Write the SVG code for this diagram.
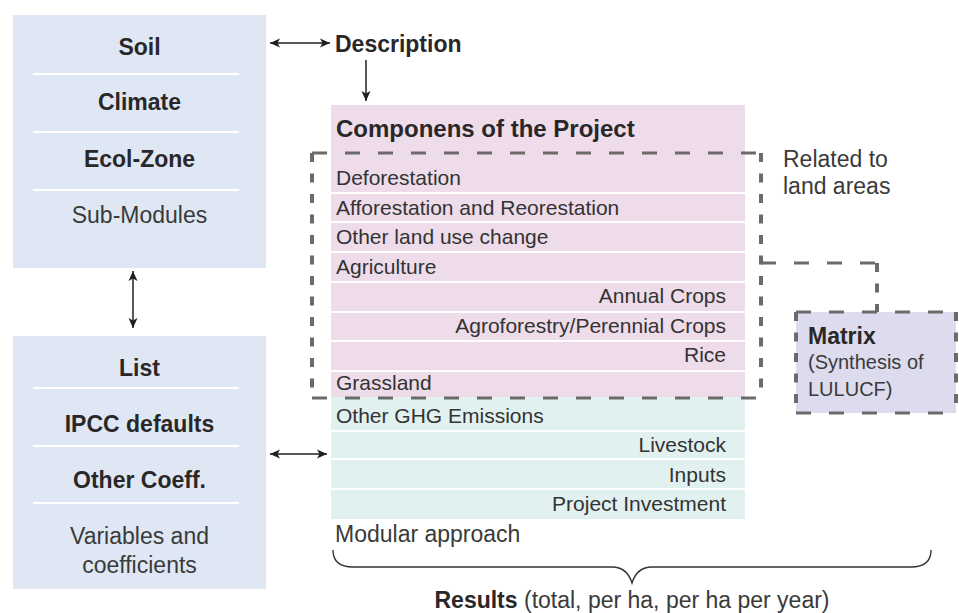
<svg xmlns="http://www.w3.org/2000/svg" width="959" height="613" viewBox="0 0 959 613">
<defs>
<style>
text{font-family:"Liberation Sans",Arial,sans-serif;fill:#2a2728}
.b{font-weight:bold;font-size:23px}
.r{font-size:23px;fill:#3a3a3a}
.row{font-size:21px;fill:#333}
.rr{font-size:21px;fill:#333;text-anchor:end}
.c{text-anchor:middle}
.sep{stroke:#fff;stroke-width:2}
.dh{fill:none;stroke:#6b6b6b;stroke-width:3;stroke-dasharray:15 18}
.dv{fill:none;stroke:#6b6b6b;stroke-width:4;stroke-dasharray:9 11.5}
.arr{fill:none;stroke:#231f20;stroke-width:1.5}
</style>
<marker id="ah" viewBox="0 0 10 10" refX="10" refY="5" markerWidth="11" markerHeight="10" markerUnits="userSpaceOnUse" orient="auto-start-reverse">
<path d="M0,0.5 L10,5 L0,9.5 L2.5,5 z" fill="#231f20"/>
</marker>
</defs>

<g id="submodules">
<rect x="13" y="15" width="253" height="253" fill="#dfe7f4"/>
<line class="sep" x1="33" y1="74" x2="239" y2="74"/>
<line class="sep" x1="33" y1="132" x2="239" y2="132"/>
<line class="sep" x1="33" y1="190" x2="239" y2="190"/>
<text class="b c" x="139.5" y="55">Soil</text>
<text class="b c" x="139.5" y="110">Climate</text>
<text class="b c" x="139.5" y="167">Ecol-Zone</text>
<text class="r c" x="139.5" y="223">Sub-Modules</text>
</g>

<g id="variables">
<rect x="13" y="336" width="253" height="253" fill="#dfe7f4"/>
<line class="sep" x1="33" y1="388" x2="239" y2="388"/>
<line class="sep" x1="33" y1="446" x2="239" y2="446"/>
<line class="sep" x1="33" y1="503" x2="239" y2="503"/>
<text class="b c" x="139.5" y="376">List</text>
<text class="b c" x="139.5" y="432">IPCC defaults</text>
<text class="b c" x="139.5" y="488">Other Coeff.</text>
<text class="r c" x="139.5" y="544">Variables and</text>
<text class="r c" x="139.5" y="573">coefficients</text>
</g>

<g id="description">
<text class="b" x="335" y="52">Description</text>
</g>

<g id="components">
<rect x="331" y="105" width="414" height="292" fill="#eedcea"/>
<line class="sep" x1="331" y1="193" x2="745" y2="193"/>
<line class="sep" x1="331" y1="222" x2="745" y2="222"/>
<line class="sep" x1="331" y1="252" x2="745" y2="252"/>
<line class="sep" x1="331" y1="282" x2="745" y2="282"/>
<line class="sep" x1="331" y1="312" x2="745" y2="312"/>
<line class="sep" x1="331" y1="341" x2="745" y2="341"/>
<line class="sep" x1="331" y1="371" x2="745" y2="371"/>
<text class="b" x="336" y="137" style="font-size:24px">Componens of the Project</text>
<text class="row" x="336" y="185">Deforestation</text>
<text class="row" x="336" y="215">Afforestation and Reorestation</text>
<text class="row" x="336" y="244">Other land use change</text>
<text class="row" x="336" y="274">Agriculture</text>
<text class="rr" x="726" y="303">Annual Crops</text>
<text class="rr" x="726" y="333">Agroforestry/Perennial Crops</text>
<text class="rr" x="726" y="362">Rice</text>
<text class="row" x="336" y="390">Grassland</text>
</g>

<g id="other-ghg">
<rect x="331" y="397" width="414" height="122" fill="#e1f1f0"/>
<line class="sep" x1="331" y1="431" x2="745" y2="431"/>
<line class="sep" x1="331" y1="459" x2="745" y2="459"/>
<line class="sep" x1="331" y1="489" x2="745" y2="489"/>
<text class="row" x="336" y="423">Other GHG Emissions</text>
<text class="rr" x="726" y="452">Livestock</text>
<text class="rr" x="726" y="482">Inputs</text>
<text class="rr" x="726" y="511">Project Investment</text>
<text class="r" x="335" y="542">Modular approach</text>
</g>

<g id="land-areas">
<path class="dh" d="M312,153 H761"/>
<path class="dh" d="M312,398 H761"/>
<path class="dv" d="M312,153 V398"/>
<path class="dv" d="M761,153 V398"/>
<text class="r" x="783" y="167">Related to</text>
<text class="r" x="783" y="194">land areas</text>
</g>

<g id="matrix">
<rect x="796" y="312" width="160" height="101" fill="#dddcee"/>
<path class="dh" d="M796,312 H956"/>
<path class="dh" d="M796,413 H956"/>
<path class="dv" d="M796,312 V413"/>
<path class="dv" d="M956,312 V413"/>
<text x="808" y="344" style="font-weight:bold;font-size:23px">Matrix</text>
<text x="808" y="369" style="font-size:20px;fill:#3a3a3a">(Synthesis of</text>
<text x="808" y="396" style="font-size:20px;fill:#3a3a3a">LULUCF)</text>
</g>

<g id="results">
<text x="632" y="608" class="c" style="font-size:23px;fill:#3a3a3a"><tspan style="font-weight:bold;fill:#2a2728">Results</tspan> (total, per ha, per ha per year)</text>
</g>

<g id="connectors">
<line class="arr" x1="270" y1="43" x2="330" y2="43" marker-start="url(#ah)" marker-end="url(#ah)"/>
<line class="arr" x1="366" y1="60" x2="366" y2="101" marker-end="url(#ah)"/>
<line class="arr" x1="133" y1="271" x2="133" y2="328" marker-start="url(#ah)" marker-end="url(#ah)"/>
<line class="arr" x1="270" y1="454" x2="327" y2="454" marker-start="url(#ah)" marker-end="url(#ah)"/>
<path class="dh" d="M761,263 H877"/>
<path class="dv" d="M877,263 V312"/>
<path fill="none" stroke="#333" stroke-width="1.4" d="M333,550 Q333,567 353,567 L612,567 Q627,567 632,583 Q637,567 652,567 L911,567 Q931,567 931,550"/>
</g>
</svg>
